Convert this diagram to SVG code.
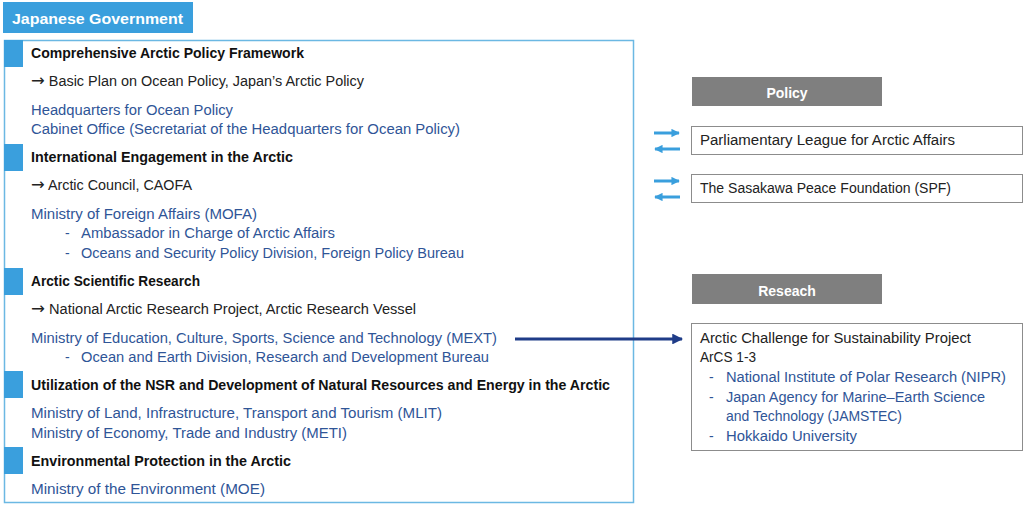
<svg xmlns="http://www.w3.org/2000/svg" width="1024" height="509" viewBox="0 0 1024 509">
<style>
text{font-family:"Liberation Sans",Arial,sans-serif;font-size:14px;}
.ar{font-family:"DejaVu Sans",sans-serif;font-size:16px;}
.h{font-weight:bold;fill:#111;}
.k{fill:#222;}
.b{fill:#2F5597;}
.w{fill:#fff;font-weight:bold;}
.mark{fill:#3A9FDD;}
.gray{fill:#7F7F7F;}
.ob{fill:#fff;stroke:#8C8C8C;stroke-width:1;}
</style>
<defs>
<marker id="ab" viewBox="0 0 10 10" refX="9" refY="5" markerWidth="2.8" markerHeight="2.8" orient="auto"><path d="M0,0L10,5L0,10z" fill="#3A9FDD"/></marker>
<marker id="an" viewBox="0 0 10 10" refX="9" refY="5" markerWidth="3.6" markerHeight="3.6" orient="auto"><path d="M0,0L10,5L0,10z" fill="#1F3C88"/></marker>
</defs>
<rect width="1024" height="509" fill="#fff"/>
<g id="gov">
<rect x="3" y="2" width="190" height="31" class="mark"/>
<text x="12" y="24" class="w" font-size="17" textLength="171" lengthAdjust="spacingAndGlyphs">Japanese Government</text>
<rect x="4.5" y="40.5" width="629" height="462" fill="none" stroke="#6BB8E3" stroke-width="1.5"/>
<rect x="4" y="40" width="19" height="27" class="mark"/>
<rect x="4" y="144" width="19" height="27" class="mark"/>
<rect x="4" y="268" width="19" height="27" class="mark"/>
<rect x="4" y="371" width="19" height="27" class="mark"/>
<rect x="4" y="447" width="19" height="27" class="mark"/>
<text x="31" y="58" class="h" textLength="273" lengthAdjust="spacingAndGlyphs">Comprehensive Arctic Policy Framework</text>
<text x="31" y="86" class="k" textLength="333" lengthAdjust="spacingAndGlyphs"><tspan class="ar">→</tspan> Basic Plan on Ocean Policy, Japan’s Arctic Policy</text>
<text x="31" y="115" class="b" textLength="202" lengthAdjust="spacingAndGlyphs">Headquarters for Ocean Policy</text>
<text x="31" y="134" class="b" textLength="429" lengthAdjust="spacingAndGlyphs">Cabinet Office (Secretariat of the Headquarters for Ocean Policy)</text>
<text x="31" y="162" class="h" textLength="262" lengthAdjust="spacingAndGlyphs">International Engagement in the Arctic</text>
<text x="31" y="190" class="k" textLength="161" lengthAdjust="spacingAndGlyphs"><tspan class="ar">→</tspan> Arctic Council, CAOFA</text>
<text x="31" y="219" class="b" textLength="226" lengthAdjust="spacingAndGlyphs">Ministry of Foreign Affairs (MOFA)</text>
<text x="65" y="238" class="b">-</text>
<text x="81" y="238" class="b" textLength="254" lengthAdjust="spacingAndGlyphs">Ambassador in Charge of Arctic Affairs</text>
<text x="65" y="258" class="b">-</text>
<text x="81" y="258" class="b" textLength="383" lengthAdjust="spacingAndGlyphs">Oceans and Security Policy Division, Foreign Policy Bureau</text>
<text x="31" y="286" class="h" textLength="169" lengthAdjust="spacingAndGlyphs">Arctic Scientific Research</text>
<text x="31" y="314" class="k" textLength="385" lengthAdjust="spacingAndGlyphs"><tspan class="ar">→</tspan> National Arctic Research Project, Arctic Research Vessel</text>
<text x="31" y="343" class="b" textLength="466" lengthAdjust="spacingAndGlyphs">Ministry of Education, Culture, Sports, Science and Technology (MEXT)</text>
<text x="65" y="362" class="b">-</text>
<text x="81" y="362" class="b" textLength="408" lengthAdjust="spacingAndGlyphs">Ocean and Earth Division, Research and Development Bureau</text>
<text x="31" y="390" class="h" textLength="579" lengthAdjust="spacingAndGlyphs">Utilization of the NSR and Development of Natural Resources and Energy in the Arctic</text>
<text x="31" y="418" class="b" textLength="411" lengthAdjust="spacingAndGlyphs">Ministry of Land, Infrastructure, Transport and Tourism (MLIT)</text>
<text x="31" y="438" class="b" textLength="316" lengthAdjust="spacingAndGlyphs">Ministry of Economy, Trade and Industry (METI)</text>
<text x="31" y="466" class="h" textLength="260" lengthAdjust="spacingAndGlyphs">Environmental Protection in the Arctic</text>
<text x="31" y="494" class="b" textLength="234" lengthAdjust="spacingAndGlyphs">Ministry of the Environment (MOE)</text>
</g>
<g id="policy">
<rect x="692" y="77" width="190" height="29" class="gray"/>
<text x="787" y="98" class="w" font-size="16" text-anchor="middle">Policy</text>
</g>
<g id="league">
<rect x="691.5" y="126.5" width="331" height="28" class="ob"/>
<text x="700" y="145" class="k" textLength="255" lengthAdjust="spacingAndGlyphs">Parliamentary League for Arctic Affairs</text>
</g>
<g id="spf">
<rect x="691.5" y="174.5" width="331" height="28" class="ob"/>
<text x="700" y="193" class="k" textLength="251" lengthAdjust="spacingAndGlyphs">The Sasakawa Peace Foundation (SPF)</text>
</g>
<g id="research">
<rect x="692" y="274" width="190" height="30" class="gray"/>
<text x="787" y="296" class="w" font-size="16" text-anchor="middle">Reseach</text>
</g>
<g id="arcs">
<rect x="691.5" y="323.5" width="331" height="127" class="ob"/>
<text x="700" y="343" class="k" textLength="271" lengthAdjust="spacingAndGlyphs">Arctic Challenge for Sustainability Project</text>
<text x="700" y="362" class="k" textLength="56" lengthAdjust="spacingAndGlyphs">ArCS 1-3</text>
<text x="709" y="382" class="b">-</text>
<text x="726" y="382" class="b" textLength="280" lengthAdjust="spacingAndGlyphs">National Institute of Polar Research (NIPR)</text>
<text x="709" y="402" class="b">-</text>
<text x="726" y="402" class="b" textLength="259" lengthAdjust="spacingAndGlyphs">Japan Agency for Marine–Earth Science</text>
<text x="726" y="421" class="b" textLength="176" lengthAdjust="spacingAndGlyphs">and Technology (JAMSTEC)</text>
<text x="709" y="441" class="b">-</text>
<text x="726" y="441" class="b" textLength="131" lengthAdjust="spacingAndGlyphs">Hokkaido University</text>
</g>
<g id="connectors" fill="none">
<line x1="654" y1="133" x2="679" y2="133" stroke="#3A9FDD" stroke-width="3" marker-end="url(#ab)"/>
<line x1="680" y1="149" x2="655" y2="149" stroke="#3A9FDD" stroke-width="3" marker-end="url(#ab)"/>
<line x1="654" y1="181" x2="679" y2="181" stroke="#3A9FDD" stroke-width="3" marker-end="url(#ab)"/>
<line x1="680" y1="197" x2="655" y2="197" stroke="#3A9FDD" stroke-width="3" marker-end="url(#ab)"/>
<line x1="515" y1="339" x2="682" y2="339" stroke="#1F3C88" stroke-width="3" marker-end="url(#an)"/>
</g>
</svg>
